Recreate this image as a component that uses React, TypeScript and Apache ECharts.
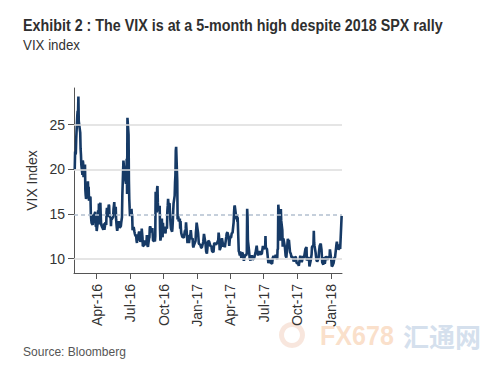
import React, { useEffect, useRef } from "react";
import * as echarts from "echarts";

const titleText = "Exhibit 2 : The VIX is at a 5-month high despite 2018 SPX rally";
const subtitleText = "VIX index";
const sourceText = "Source: Bloomberg";
const yAxisName = "VIX Index";

const yTicks = [10, 15, 20, 25];
const solidGridValues = [10, 20, 25];
const dashedGridValue = 14.9;
const xTickDates = ["2016-04-01", "2016-07-01", "2016-10-01", "2017-01-01", "2017-04-01", "2017-07-01", "2017-10-01", "2018-01-01"];
const monthNames = ["Jan", "Feb", "Mar", "Apr", "May", "Jun", "Jul", "Aug", "Sep", "Oct", "Nov", "Dec"];

const vix2016: [string, number][] = [
  ["02-01", 19.98], ["02-02", 21.98], ["02-03", 21.65], ["02-04", 21.84], ["02-05", 23.38], ["02-08", 26.0], ["02-09", 26.54], ["02-10", 26.29], ["02-11", 28.14], ["02-12", 25.4],
  ["02-16", 24.11], ["02-17", 22.31], ["02-18", 21.64], ["02-19", 20.53], ["02-22", 19.38], ["02-23", 20.98], ["02-24", 20.72], ["02-25", 19.11], ["02-26", 19.81], ["02-29", 20.55],
  ["03-01", 17.7], ["03-02", 17.09], ["03-03", 16.7], ["03-04", 16.86], ["03-07", 17.35], ["03-08", 18.67], ["03-09", 17.5], ["03-10", 18.05], ["03-11", 16.5], ["03-14", 16.92],
  ["03-15", 16.84], ["03-16", 14.99], ["03-17", 14.44], ["03-18", 14.02], ["03-21", 13.79], ["03-22", 14.17], ["03-23", 14.94], ["03-24", 14.74], ["03-28", 15.24], ["03-29", 13.82],
  ["03-30", 13.56], ["03-31", 13.95], ["04-01", 13.1], ["04-04", 14.12], ["04-05", 15.42], ["04-06", 13.84], ["04-07", 16.16], ["04-08", 15.36], ["04-11", 16.26], ["04-12", 14.85],
  ["04-13", 13.84], ["04-14", 13.72], ["04-15", 13.62], ["04-18", 13.35], ["04-19", 13.24], ["04-20", 13.28], ["04-21", 13.95], ["04-22", 13.22], ["04-25", 14.08], ["04-26", 13.96],
  ["04-27", 13.77], ["04-28", 15.22], ["04-29", 15.7], ["05-02", 14.68], ["05-03", 15.6], ["05-04", 16.05], ["05-05", 15.91], ["05-06", 14.72], ["05-09", 14.57], ["05-10", 13.63],
  ["05-11", 14.69], ["05-12", 14.41], ["05-13", 14.45], ["05-16", 14.68], ["05-17", 15.57], ["05-18", 15.95], ["05-19", 16.33], ["05-20", 15.2], ["05-23", 15.82], ["05-24", 14.42],
  ["05-25", 13.9], ["05-26", 13.43], ["05-27", 13.12], ["05-31", 14.19], ["06-01", 14.2], ["06-02", 13.63], ["06-03", 13.47], ["06-06", 13.65], ["06-07", 14.05], ["06-08", 14.08],
  ["06-09", 14.64], ["06-10", 17.03], ["06-13", 20.97], ["06-14", 20.5], ["06-15", 20.14], ["06-16", 19.37], ["06-17", 19.41], ["06-20", 18.37], ["06-21", 18.48], ["06-22", 21.17],
  ["06-23", 17.25], ["06-24", 25.76], ["06-27", 23.85], ["06-28", 18.75], ["06-29", 16.64], ["06-30", 15.63], ["07-01", 14.77], ["07-05", 15.58], ["07-06", 14.96], ["07-07", 14.76],
  ["07-08", 13.2], ["07-11", 13.54], ["07-12", 13.55], ["07-13", 13.04], ["07-14", 12.82], ["07-15", 12.67], ["07-18", 12.44], ["07-19", 11.97], ["07-20", 11.77], ["07-21", 12.74],
  ["07-22", 12.02], ["07-25", 12.87], ["07-26", 13.05], ["07-27", 12.83], ["07-28", 12.72], ["07-29", 11.87], ["08-01", 12.44], ["08-02", 13.37], ["08-03", 12.86], ["08-04", 12.42],
  ["08-05", 11.39], ["08-08", 11.5], ["08-09", 11.66], ["08-10", 12.05], ["08-11", 11.68], ["08-12", 11.55], ["08-15", 11.81], ["08-16", 12.64], ["08-17", 12.19], ["08-18", 11.43],
  ["08-19", 11.34], ["08-22", 12.27], ["08-23", 12.38], ["08-24", 13.45], ["08-25", 13.63], ["08-26", 13.65], ["08-29", 12.94], ["08-30", 13.12], ["08-31", 13.42], ["09-01", 13.48],
  ["09-02", 11.98], ["09-06", 12.02], ["09-07", 11.94], ["09-08", 12.51], ["09-09", 17.5], ["09-12", 15.16], ["09-13", 17.85], ["09-14", 18.14], ["09-15", 16.3], ["09-16", 15.37],
  ["09-19", 15.53], ["09-20", 15.92], ["09-21", 13.3], ["09-22", 12.02], ["09-23", 12.29], ["09-26", 14.5], ["09-27", 13.1], ["09-28", 12.39], ["09-29", 14.02], ["09-30", 13.29],
  ["10-03", 13.57], ["10-04", 13.63], ["10-05", 12.99], ["10-06", 12.84], ["10-07", 13.48], ["10-10", 13.38], ["10-11", 15.36], ["10-12", 15.91], ["10-13", 16.69], ["10-14", 16.12],
  ["10-17", 16.21], ["10-18", 15.28], ["10-19", 14.41], ["10-20", 13.75], ["10-21", 13.34], ["10-24", 13.02], ["10-25", 13.46], ["10-26", 14.24], ["10-27", 15.36], ["10-28", 16.19],
  ["10-31", 17.06], ["11-01", 18.56], ["11-02", 19.32], ["11-03", 22.08], ["11-04", 22.51], ["11-07", 18.71], ["11-08", 14.38], ["11-09", 14.38], ["11-10", 14.74], ["11-11", 14.17],
  ["11-14", 14.48], ["11-15", 13.37], ["11-16", 14.21], ["11-17", 13.35], ["11-18", 12.85], ["11-21", 12.42], ["11-22", 12.41], ["11-23", 12.43], ["11-25", 12.34], ["11-28", 13.15],
  ["11-29", 12.9], ["11-30", 13.33], ["12-01", 14.07], ["12-02", 14.12], ["12-05", 11.75], ["12-06", 11.79], ["12-07", 12.22], ["12-08", 12.64], ["12-09", 11.75], ["12-12", 12.64],
  ["12-13", 12.72], ["12-14", 13.19], ["12-15", 12.79], ["12-16", 12.2], ["12-19", 12.29], ["12-20", 11.45], ["12-21", 11.27], ["12-22", 11.43], ["12-23", 11.44], ["12-27", 11.99],
  ["12-28", 12.95], ["12-29", 13.37], ["12-30", 14.04],
];

const vix2017: [string, number][] = [
  ["01-03", 12.85], ["01-05", 11.67], ["01-09", 11.56], ["01-11", 11.26], ["01-13", 11.23], ["01-17", 11.87], ["01-19", 12.78], ["01-23", 11.77], ["01-25", 10.81], ["01-27", 10.58],
  ["01-30", 11.88], ["01-31", 11.99], ["02-02", 11.93], ["02-06", 11.37], ["02-08", 11.45], ["02-10", 10.85], ["02-14", 10.74], ["02-16", 11.76], ["02-21", 11.57], ["02-23", 11.71],
  ["02-27", 12.09], ["02-28", 12.92], ["03-01", 12.54], ["03-03", 10.96], ["03-07", 11.45], ["03-09", 12.3], ["03-13", 11.35], ["03-15", 11.63], ["03-17", 11.28], ["03-21", 12.47],
  ["03-22", 12.81], ["03-24", 12.96], ["03-27", 12.5], ["03-29", 11.42], ["03-31", 12.37], ["04-03", 12.38], ["04-05", 12.89], ["04-07", 12.87], ["04-10", 14.05], ["04-11", 15.07],
  ["04-12", 15.77], ["04-13", 15.96], ["04-17", 14.66], ["04-18", 14.42], ["04-19", 14.93], ["04-20", 14.15], ["04-21", 14.63], ["04-24", 10.84], ["04-25", 10.76], ["04-27", 10.36],
  ["04-28", 10.82], ["05-01", 10.11], ["05-03", 10.68], ["05-05", 10.57], ["05-08", 9.77], ["05-10", 10.21], ["05-12", 10.4], ["05-15", 10.42], ["05-16", 10.65], ["05-17", 15.59],
  ["05-18", 14.66], ["05-19", 12.04], ["05-22", 10.93], ["05-24", 9.99], ["05-26", 9.81], ["05-30", 10.38], ["06-01", 9.89], ["06-05", 10.07], ["06-07", 10.39], ["06-09", 10.7],
  ["06-12", 11.46], ["06-14", 10.64], ["06-16", 10.38], ["06-20", 10.86], ["06-22", 10.48], ["06-26", 10.56], ["06-29", 11.44], ["06-30", 11.18], ["07-03", 11.22], ["07-05", 11.07],
  ["07-06", 12.54], ["07-07", 11.19], ["07-10", 11.11], ["07-12", 10.3], ["07-14", 9.51], ["07-18", 9.89], ["07-20", 9.58], ["07-24", 9.43], ["07-26", 10.11], ["07-28", 10.29],
  ["08-01", 10.09], ["08-03", 10.44], ["08-07", 9.93], ["08-08", 11.0], ["08-09", 11.11], ["08-10", 16.04], ["08-11", 15.51], ["08-14", 12.33], ["08-16", 12.04], ["08-17", 15.55],
  ["08-18", 14.26], ["08-21", 13.19], ["08-22", 11.35], ["08-24", 12.25], ["08-28", 11.32], ["08-30", 10.33], ["09-01", 10.13], ["09-05", 12.23], ["09-07", 11.55], ["09-08", 12.12],
  ["09-11", 10.73], ["09-13", 10.58], ["09-15", 10.17], ["09-19", 10.18], ["09-21", 9.67], ["09-25", 10.21], ["09-27", 10.17], ["09-29", 9.51], ["10-03", 9.51], ["10-05", 9.19],
  ["10-09", 10.33], ["10-11", 9.85], ["10-13", 9.61], ["10-17", 10.31], ["10-19", 10.05], ["10-23", 11.07], ["10-24", 11.16], ["10-26", 11.3], ["10-27", 9.8], ["10-31", 10.18],
  ["11-02", 9.93], ["11-03", 9.14], ["11-07", 9.89], ["11-09", 10.5], ["11-10", 11.29], ["11-13", 11.5], ["11-14", 11.59], ["11-15", 13.13], ["11-16", 11.76], ["11-17", 11.43],
  ["11-20", 10.65], ["11-22", 9.88], ["11-24", 9.67], ["11-28", 10.03], ["11-29", 10.7], ["12-01", 11.43], ["12-04", 11.68], ["12-05", 11.33], ["12-06", 11.02], ["12-08", 9.58],
  ["12-11", 9.34], ["12-13", 10.18], ["12-15", 9.42], ["12-18", 10.27], ["12-20", 10.03], ["12-22", 9.9], ["12-26", 10.25], ["12-28", 10.18], ["12-29", 11.04],
];

const vix2018: [string, number][] = [
  ["01-02", 9.77], ["01-03", 9.15], ["01-05", 9.22], ["01-08", 9.52], ["01-10", 10.08], ["01-12", 10.16], ["01-16", 11.66], ["01-17", 11.91], ["01-19", 11.27], ["01-22", 11.03],
  ["01-23", 11.1], ["01-25", 11.58], ["01-26", 11.08], ["01-29", 13.84], ["01-30", 14.79],
];

const toTs = (s: string) => {
  const [y, m, d] = s.split("-").map(Number);
  return Date.UTC(y, m - 1, d);
};

const fitScale = (text: string, font: string, target: number) => {
  try {
    const ctx = document.createElement("canvas").getContext("2d");
    if (!ctx) return 1;
    ctx.font = font;
    const w = ctx.measureText(text).width;
    return w > 0 ? target / w : 1;
  } catch (e) {
    return 1;
  }
};

export default function App() {
  const ref = useRef<HTMLDivElement>(null);
  useEffect(() => {
    if (!ref.current) return;
    const chart = echarts.init(ref.current, null, { renderer: "svg" });
    const seriesData: [number, number][] = [
      ...vix2016.map(([d, v]) => [toTs("2016-" + d), v] as [number, number]),
      ...vix2017.map(([d, v]) => [toTs("2017-" + d), v] as [number, number]),
      ...vix2018.map(([d, v]) => [toTs("2018-" + d), v] as [number, number]),
    ];
    const xTicks = xTickDates.map(toTs);
    const labelFont = "Liberation Sans, Arial, sans-serif";
    const titleFont = "bold 17px Liberation Sans, Arial, sans-serif";
    const subFont = "15px Liberation Sans, Arial, sans-serif";
    const srcFont = "13px Liberation Sans, Arial, sans-serif";
    const wmFont = "bold 27px Liberation Sans, Arial, sans-serif";
    const titleScale = fitScale(titleText, titleFont, 420);
    const subScale = fitScale(subtitleText, subFont, 57);
    const srcScale = fitScale(sourceText, srcFont, 103);
    const wmScale = fitScale("FX678", wmFont, 74);
    chart.setOption({
      animation: false,
      backgroundColor: "#ffffff",
      grid: { left: 74, right: 158, top: 88, bottom: 98 },
      xAxis: {
        type: "value",
        min: toTs("2016-01-30"),
        max: toTs("2018-01-31"),
        splitLine: { show: false },
        axisLine: { lineStyle: { color: "#555555", width: 1 } },
        axisTick: { show: true, length: 6, customValues: xTicks, lineStyle: { color: "#555555" } },
        axisLabel: {
          customValues: xTicks,
          rotate: 90,
          margin: 11,
          color: "#333333",
          fontSize: 14,
          fontFamily: labelFont,
          formatter: (v: number) => {
            const dt = new Date(v);
            return monthNames[dt.getUTCMonth()] + "-" + String(dt.getUTCFullYear()).slice(2);
          },
        },
      },
      yAxis: {
        type: "value",
        min: 8.4,
        max: 29.1,
        name: yAxisName,
        nameLocation: "middle",
        nameGap: 30,
        nameTextStyle: { color: "#333333", fontSize: 14, fontFamily: labelFont },
        splitLine: { show: false },
        axisLine: { show: true, lineStyle: { color: "#555555", width: 1 } },
        axisTick: { show: true, length: 6, customValues: yTicks, lineStyle: { color: "#555555" } },
        axisLabel: { customValues: yTicks, margin: 9, color: "#333333", fontSize: 14, fontFamily: labelFont },
      },
      series: [
        {
          type: "line",
          data: [],
          z: 1,
          silent: true,
          markLine: {
            silent: true,
            symbol: "none",
            label: { show: false },
            data: [
              ...solidGridValues.map((v) => ({ yAxis: v, lineStyle: { color: "#dddddd", width: 1.5, type: "solid" } })),
              { yAxis: dashedGridValue, lineStyle: { color: "#b3c0cf", width: 1.5, type: [4, 3] } },
            ],
          },
        },
        {
          type: "line",
          data: seriesData,
          z: 3,
          showSymbol: false,
          symbol: "none",
          lineStyle: { color: "#163a66", width: 2.6 },
          silent: true,
        },
      ],
      graphic: [
        { type: "text", x: 23, y: 17, scaleX: titleScale, style: { text: titleText, font: titleFont, fill: "#2f2f2f" } },
        { type: "text", x: 23, y: 37, scaleX: subScale, style: { text: subtitleText, font: subFont, fill: "#333333" } },
        { type: "text", x: 23, y: 345, scaleX: srcScale, style: { text: sourceText, font: srcFont, fill: "#555555" } },
        { type: "ring", shape: { cx: 292, cy: 335, r: 13, r0: 8 }, style: { fill: "#f3d6c6", opacity: 0.6 } },
        { type: "text", x: 320, y: 322, scaleX: wmScale, style: { text: "FX678", font: wmFont, fill: "#f8d2b4", opacity: 0.7 } },
        { type: "text", x: 403, y: 322, style: { text: "汇通网", font: "bold 26px Noto Sans CJK SC, sans-serif", fill: "#c2d2e6", opacity: 0.7 } },
      ],
    });
    return () => chart.dispose();
  }, []);
  return <div ref={ref} style={{ width: 500, height: 371, position: "absolute", left: 0, top: 0 }} />;
}
